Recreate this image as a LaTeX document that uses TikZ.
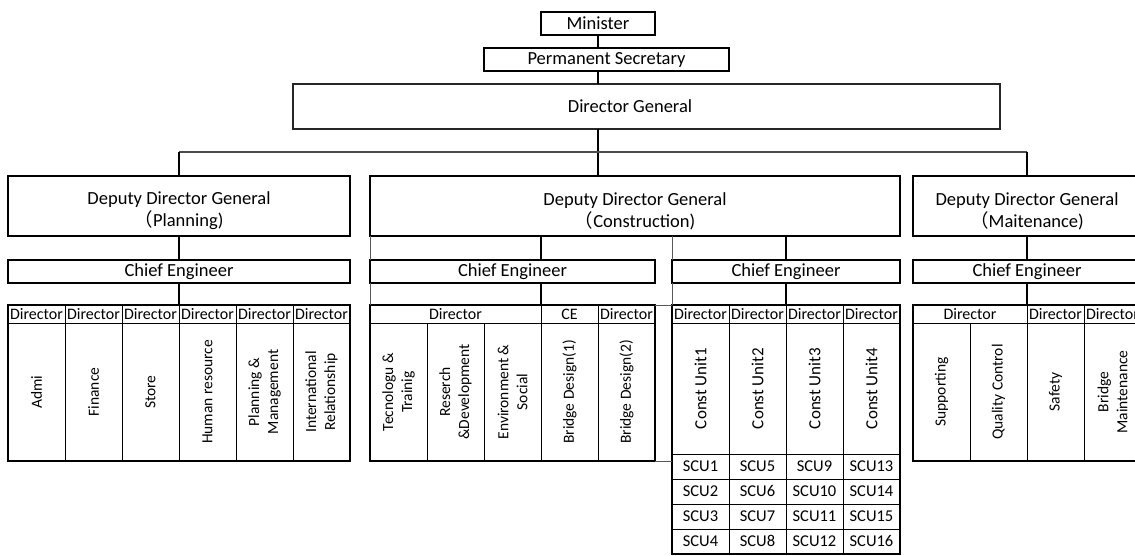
\documentclass[tikz,border=0pt]{standalone}
\usepackage{fontspec}
\setmainfont{Carlito}
\newfontfamily\cjkfont{Noto Sans CJK JP}
\begin{document}
\begin{tikzpicture}[x=1pt,y=-1pt,
  every node/.style={inner sep=0pt, outer sep=0pt},
  titlefont/.style={font=\fontsize{18.5}{22}\selectfont},
  box/.style={draw=black, line width=1.8pt, fill=white, titlefont, align=center},
  boxtext/.style={titlefont, align=center},
  conn/.style={draw=black, line width=1.8pt},
  bus/.style={draw=black!70, line width=1.6pt},
  gridline/.style={draw=black!65, line width=0.8pt},
  hcell/.style={draw=black, line width=1pt, anchor=north west, minimum height=18pt, font=\fontsize{16}{18}\selectfont},
  bcell/.style={draw=black, line width=1pt, anchor=north west},
  vtext/.style={rotate=90, align=center, font=\fontsize{15.5}{19}\selectfont},
  scucell/.style={draw=black, line width=1pt, anchor=north west, minimum width=57pt, minimum height=25pt,
    text height=10.5pt, text depth=0pt, font=\fontsize{16.5}{18}\selectfont},
  outer/.style={draw=black, line width=1.8pt},
]
\useasboundingbox (0,0) rectangle (1135,556);
\clip (0,0) rectangle (1135,556);

% top of the hierarchy
\node[box, minimum width=114pt, minimum height=23pt] (min) at (598,23.5) {Minister};
\node[box, minimum width=245pt, minimum height=23pt] (ps) at (606.5,59.5) {Permanent Secretary};
\node[box, draw=black!85, line width=1.5pt, minimum width=707pt, minimum height=45pt] (dg) at (646.5,106.5) {};
\node[boxtext] (dgt) at (630,106.5) {Director General};

% deputy directors general
\node[box, minimum width=342pt, minimum height=60pt] (ddgp) at (179,206) {};
\node[box, minimum width=530pt, minimum height=60pt] (ddgc) at (635,206) {};
\node[box, minimum width=228pt, minimum height=60pt] (ddgm) at (1027,206) {};
\node[boxtext] (ddgpt) at (179,211) {Deputy Director General\\{\cjkfont （}Planning)};
\node[boxtext] (ddgct) at (635,211) {Deputy Director General\\{\cjkfont （}Construction)};
\node[boxtext] (ddgmt) at (1027,211) {Deputy Director General\\{\cjkfont （}Maitenance)};

% chief engineers
\node[box, minimum width=342pt, minimum height=23pt] (cep) at (179,271.5) {Chief Engineer};
\node[box, minimum width=285pt, minimum height=23pt] (ce1) at (512.5,271.5) {Chief Engineer};
\node[box, minimum width=228pt, minimum height=23pt] (ce2) at (786,271.5) {Chief Engineer};
\node[box, minimum width=228pt, minimum height=23pt] (cem) at (1027,271.5) {Chief Engineer};

% planning directorates
\foreach \i/\t in {1/Admi,2/Finance,3/Store,4/Human resource,5/{Planning \&\\Management},6/{International\\Relationship}} {
  \node[hcell, minimum width=57pt] (ph\i) at ({8+57*(\i-1)},305) {Director};
  \node[bcell, minimum width=57pt, minimum height=138pt] (pb\i) at ({8+57*(\i-1)},323) {};
  \node[vtext] at (pb\i.center) {\t};
}
\draw[outer] (ph1.north west) rectangle (pb6.south east);

% construction: design directorates
\node[hcell, minimum width=171pt] (ch1) at (370,305) {Director};
\node[hcell, minimum width=57pt] (ch2) at (541,305) {CE};
\node[hcell, minimum width=57pt] (ch3) at (598,305) {Director};
\foreach \i/\t in {1/{Tecnologu \&\\Trainig},2/{Reserch\\\&Development},3/{Environment \&\\Social},4/Bridge Design(1),5/Bridge Design(2)} {
  \node[bcell, minimum width=57pt, minimum height=138pt] (cb\i) at ({370+57*(\i-1)},323) {};
  \node[vtext] at (cb\i.center) {\t};
}
\draw[outer] (ch1.north west) rectangle (cb5.south east);

% construction units and their sub units
\foreach \i in {1,...,4} {
  \node[hcell, minimum width=57pt] (uh\i) at ({672+57*(\i-1)},305) {Director};
  \node[bcell, minimum width=57pt, minimum height=131pt] (ub\i) at ({672+57*(\i-1)},323) {};
  \node[vtext, font=\fontsize{17}{19}\selectfont] at (ub\i.center) {Const Unit\i};
  \foreach \r in {1,...,4} {
    \pgfmathtruncatemacro\n{(\i-1)*4+\r}
    \node[scucell] (s\n) at ({672+57*(\i-1)},{454+25*(\r-1)}) {SCU\n};
  }
}
\draw[outer] (uh1.north west) rectangle (s16.south east);

% maintenance directorates
\node[hcell, minimum width=114pt] (mh1) at (913,305) {Director};
\node[hcell, minimum width=57pt] (mh2) at (1027,305) {Director};
\node[hcell, minimum width=57pt] (mh3) at (1084,305) {Director};
\foreach \i/\t in {1/Supporting,2/Quality Control,3/Safety,4/{Bridge\\Maintenance}} {
  \node[bcell, minimum width=57pt, minimum height=138pt] (mb\i) at ({913+57*(\i-1)},323) {};
  \node[vtext] at (mb\i.center) {\t};
}
\draw[outer] (mh1.north west) rectangle (mb4.south east);

% connectors
\coordinate (busL) at (179,152);
\coordinate (busR) at (1027,152);
\draw[conn] (min.south) -- (min.south |- ps.north);
\draw[conn] (min.south |- ps.south) -- (min.south |- dg.north);
\draw[conn] (min.south |- dg.south) -- (min.south |- ddgc.north);
\draw[bus] (busL) -- (busR);
\draw[conn] (busL) -- (ddgp.north);
\draw[conn] (busR) -- (ddgm.north);
\draw[conn] (ddgp.south) -- (cep.north);
\draw[conn] (cep.south) -- (cep.south |- ph1.north);
\draw[conn] (ch2.north west |- ddgc.south) -- (ch2.north west |- ce1.north);
\draw[conn] (ch2.north west |- ce1.south) -- (ch2.north west);
\draw[conn] (ce2.north |- ddgc.south) -- (ce2.north);
\draw[conn] (ce2.south) -- (ce2.south |- uh1.north);
\draw[conn] (ddgm.south) -- (cem.north);
\draw[conn] (cem.south) -- (cem.south |- mh1.north);

% sheet grid lines
\draw[gridline] (ddgc.south west) -- (ce1.north west);
\draw[gridline] (ce1.south west) -- (ch1.north west);
\draw[gridline] (ce2.north west |- ddgc.south) -- (ce2.north west);
\draw[gridline] (ce2.south west) -- (uh1.north west);
\draw[gridline] (ch3.north east) -- (uh1.north west);
\draw[gridline] (cb5.south east) -- (cb5.south east -| uh1.west);
\end{tikzpicture}
\end{document}
